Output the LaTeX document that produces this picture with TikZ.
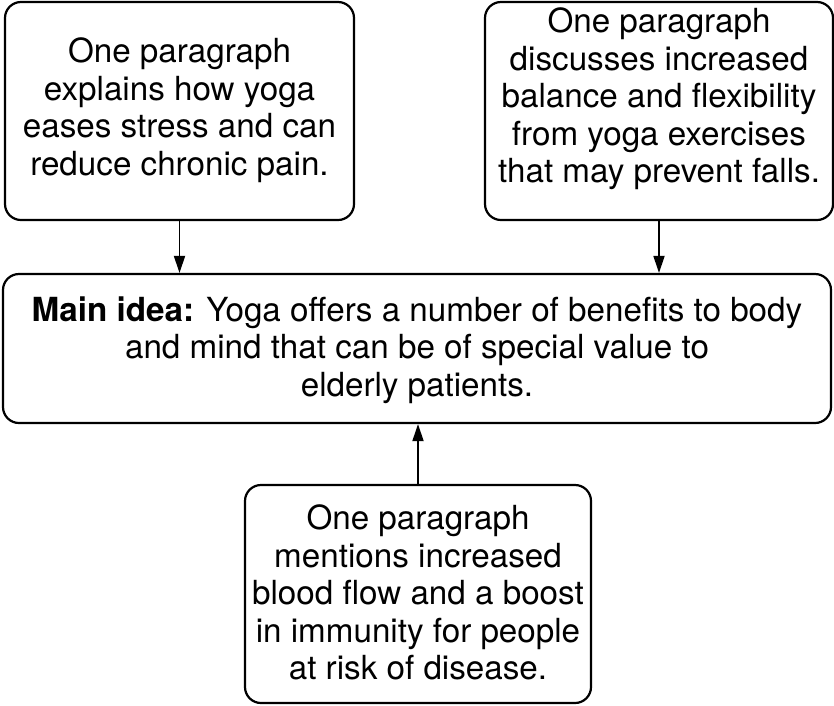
\documentclass[tikz,border=0pt]{standalone}
\usepackage{fontspec}
\setmainfont{TeX Gyre Heros}
\usetikzlibrary{arrows.meta}
\begin{document}
\begin{tikzpicture}[x=1pt,y=-1pt,
  box/.style={draw, line width=2.2pt, rounded corners=16pt, inner sep=0pt},
  txt/.style={align=center, font=\fontsize{33.2}{37.5}\selectfont, inner sep=0pt},
  arr/.style={line width=1.8pt, -{Triangle[length=17pt,width=11pt]}}]
\useasboundingbox (0,0) rectangle (834,705);
\node[box, minimum width=349pt, minimum height=218pt] (b1) at (179.5,111) {};
\node[txt] (t1) at (179.5,110) {One paragraph\\explains how yoga\\eases stress and can\\reduce chronic pain.};
\node[box, minimum width=348pt, minimum height=218pt] (b2) at (659,111) {};
\node[txt] (t2) at (659,99) {One paragraph\\discusses increased\\balance and flexibility\\from yoga exercises\\that may prevent falls.};
\node[box, minimum width=828pt, minimum height=149pt] (m) at (417,348.5) {};
\node[txt] (tm) at (417,350) {\textbf{Main idea:} Yoga offers a number of benefits to body\\and mind that can be of special value to\\elderly patients.};
\node[box, minimum width=346pt, minimum height=218pt] (b3) at (418,594) {};
\node[txt] (t3) at (418,592.5) {One paragraph\\mentions increased\\blood flow and a boost\\in immunity for people\\at risk of disease.};
\draw[arr] (b1.south) -- (b1.south |- m.north);
\draw[arr] (b2.south) -- (b2.south |- m.north);
\draw[arr] (b3.north) -- (b3.north |- m.south);
\end{tikzpicture}
\end{document}
